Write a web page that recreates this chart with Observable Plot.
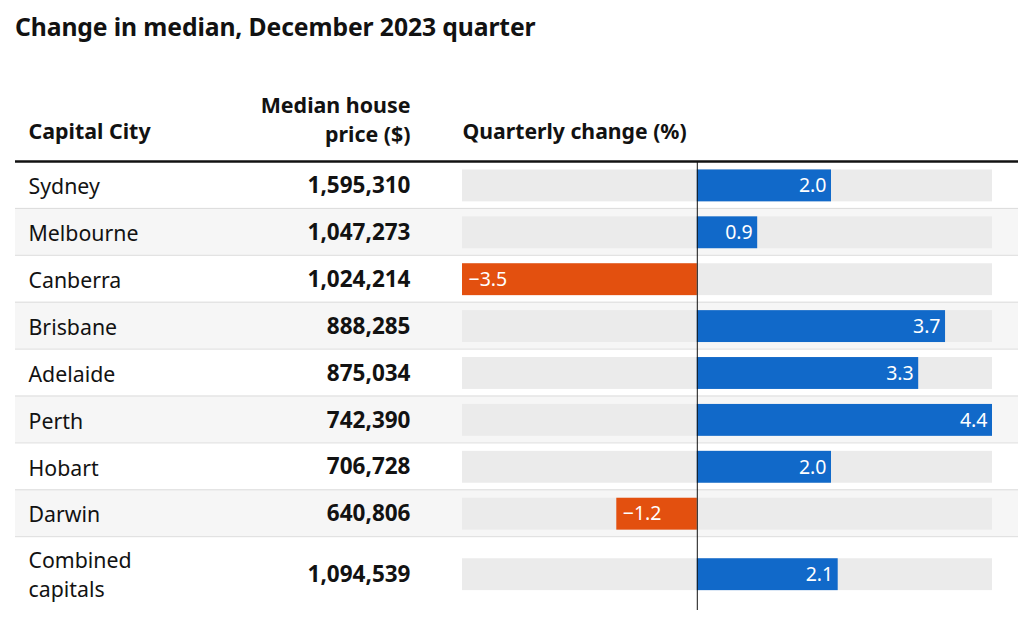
<!DOCTYPE html>
<html>
<head>
<meta charset="utf-8">
<script src="https://cdn.jsdelivr.net/npm/d3@7"></script>
<script src="https://cdn.jsdelivr.net/npm/@observablehq/plot@0.6"></script>
<style>
  body { margin: 0; background: #fff; font-family: "Noto Sans", sans-serif; color: #121212; }
  #title { font-size: 24.7px; font-weight: 700; padding: 12px 0 0 15px; height: 44px; line-height: 30px; letter-spacing: -0.1px; }
  svg { display: block; }
</style>
</head>
<body>
<div id="title">Change in median, December 2023 quarter</div>
<div id="chart"></div>
<script>
const cities = ["Sydney", "Melbourne", "Canberra", "Brisbane", "Adelaide", "Perth", "Hobart", "Darwin", "Combined\ncapitals"];
const prices = [1595310, 1047273, 1024214, 888285, 875034, 742390, 706728, 640806, 1094539];
const changes = [2.0, 0.9, -3.5, 3.7, 3.3, 4.4, 2.0, -1.2, 2.1];
const headers = ["Capital City", "Median house\nprice ($)", "Quarterly change (%)"];

const W = 1024, H = 568;
const rowPx = 46.9, topPx = 105;
const xDomain = [-3.5, 4.4], xRange = [462, 992];
const xs = d3.scaleLinear().domain(xDomain).range(xRange);
const yDomain = [-topPx / rowPx, (H - topPx) / rowPx];
const yAt = px => (px - 56 - topPx) / rowPx;

const rows = cities.map((c, i) => {
  const last = i === cities.length - 1;
  const y1 = i, y2 = last ? i + 1.62 : i + 1;
  const cy = last ? (y1 + y2) / 2 : i + 0.52;
  return {city: c, price: prices[i], change: changes[i], i, y1, y2, cy};
});

const xL = xs.invert(15), xR = xs.invert(1018);
const fmtP = d3.format(",");
const fmtC = d3.format(".1f");

const chart = Plot.plot({
  width: W, height: H,
  marginTop: 0, marginBottom: 0, marginLeft: 0, marginRight: 0,
  x: {domain: xDomain, range: xRange, axis: null},
  y: {domain: yDomain, range: [0, H], axis: null},
  style: {fontFamily: "'Noto Sans', sans-serif", color: "#121212", background: "transparent"},
  marks: [
    Plot.rect(rows.filter(d => d.i % 2 === 1), {x1: xL, x2: xR, y1: "y1", y2: "y2", fill: "#f6f6f6"}),
    Plot.ruleY(rows.slice(1), {y: "y1", x1: xL, x2: xR, stroke: "#dcdcdc", strokeWidth: 1}),
    Plot.ruleY([0], {x1: xL, x2: xR, stroke: "#121212", strokeWidth: 2.5}),
    Plot.rect(rows, {x1: xDomain[0], x2: xDomain[1], y1: d => d.cy - 0.34, y2: d => d.cy + 0.34, fill: "#ebebeb"}),
    Plot.rect(rows, {x1: 0, x2: "change", y1: d => d.cy - 0.34, y2: d => d.cy + 0.34,
      fill: d => d.change < 0 ? "#e3500f" : "#1169c9"}),
    Plot.ruleX([0], {y1: 0, y2: yAt(610), stroke: "#121212", strokeWidth: 1}),
    Plot.text(rows.filter(d => d.change >= 0), {x: "change", y: "cy", text: d => fmtC(d.change),
      textAnchor: "end", dx: -5, fill: "white", fontSize: 19.5}),
    Plot.text(rows.filter(d => d.change < 0), {x: "change", y: "cy", text: d => fmtC(d.change),
      textAnchor: "start", dx: 6, fill: "white", fontSize: 19.5}),
    Plot.text(rows, {x: xs.invert(28), y: "cy", dy: -1, text: "city", textAnchor: "start", fontSize: 21.3, lineHeight: 1.36, fill: "#121212"}),
    Plot.text(rows, {x: xs.invert(410), y: "cy", text: d => fmtP(d.price), textAnchor: "end", fontSize: 22.5, fontWeight: 700, fill: "#121212"}),
    Plot.text([headers[0]], {x: xs.invert(28), y: yAt(132), text: d => d, textAnchor: "start", fontSize: 21.4, fontWeight: 700, fill: "#121212"}),
    Plot.text([headers[1]], {x: xs.invert(410), y: yAt(117.5), text: d => d, textAnchor: "end", fontSize: 21.4, fontWeight: 700, lineHeight: 1.36, fill: "#121212"}),
    Plot.text([headers[2]], {x: xs.invert(462), y: yAt(132), text: d => d, textAnchor: "start", fontSize: 21.2, fontWeight: 700, fill: "#121212"})
  ]
});
document.getElementById("chart").appendChild(chart);
</script>
</body>
</html>
